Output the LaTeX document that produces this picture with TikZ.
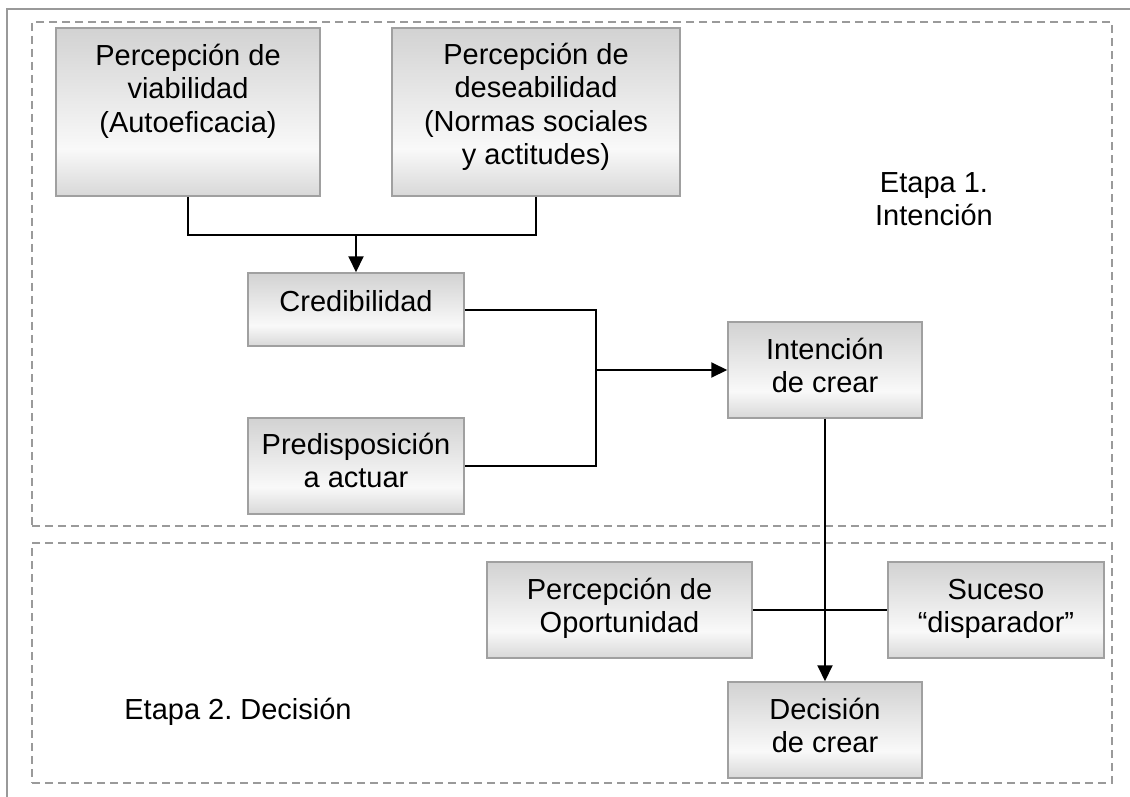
\documentclass[tikz,border=0pt]{standalone}
\usepackage{fontspec}
\setmainfont{Liberation Sans}
\frenchspacing
\usetikzlibrary{arrows.meta}
\definecolor{boxedge}{HTML}{A0A0A0}
\definecolor{gradT}{HTML}{D2D2D2}
\definecolor{gradB}{HTML}{D8D8D8}
\definecolor{gradM}{HTML}{F9F9F9}
\definecolor{dashgray}{HTML}{9A9A9A}
\definecolor{framegray}{HTML}{999999}
\pgfdeclareverticalshading{boxshade}{100bp}{color(0bp)=(gradB); color(25bp)=(gradB); color(39bp)=(gradM); color(75bp)=(gradT); color(100bp)=(gradT)}
\tikzset{
  box/.style={draw=boxedge, line width=1.5pt, rectangle, inner sep=0pt, shade, shading=boxshade},
  txt/.style={anchor=base, inner sep=0pt, font=\fontsize{29}{33.5}\selectfont},
  conn/.style={line width=2pt, black},
  thinconn/.style={line width=1.6pt, black},
  arr/.style={conn, -{Triangle[length=16pt,width=15pt]}},
  zone/.style={draw=dashgray, line width=1.3pt, dash pattern=on 8pt off 5pt, rectangle, inner sep=0pt},
}
\newcommand{\cellstack}[1]{\begin{tabular}[t]{@{}c@{}}#1\end{tabular}}
\begin{document}
\begin{tikzpicture}[x=1pt,y=-1pt]
\useasboundingbox (0,0) rectangle (1130,797);
\fill[white] (0,0) rectangle (1130,797);
% outer frame (only top and left visible)
\draw[framegray, line width=2pt] (1130,9) -- (7,9) -- (7,797);
% zones
\node[zone, minimum width=1080pt, minimum height=504pt] (zone1) at (572,274) {};
\node[zone, minimum width=1080pt, minimum height=240pt] (zone2) at (572,663) {};
% boxes
\node[box, minimum width=264pt, minimum height=168pt] (A) at (188,112) {};
\node[box, minimum width=288pt, minimum height=168pt] (B) at (536,112) {};
\node[box, minimum width=216pt, minimum height=73pt] (cred) at (356,309.5) {};
\node[box, minimum width=216pt, minimum height=96pt] (pred) at (356,466) {};
\node[box, minimum width=194pt, minimum height=96pt] (int) at (825,370) {};
\node[box, minimum width=265pt, minimum height=96pt] (opo) at (619.5,610) {};
\node[box, minimum width=216pt, minimum height=96pt] (suc) at (996,610) {};
\node[box, minimum width=194pt, minimum height=96pt] (dec) at (825,730) {};
% texts
\node[txt] (At) at ([yshift=-38pt]A.north) {\cellstack{Percepción de\\viabilidad\\(Autoeficacia)}};
\node[txt] (Bt) at ([yshift=-37pt]B.north) {\cellstack{Percepción de\\deseabilidad\\(Normas sociales\\y actitudes)}};
\node[txt] (credt) at ([yshift=-39pt]cred.north) {Credibilidad};
\node[txt] (predt) at ([yshift=-37pt]pred.north) {\cellstack{Predisposición\\a actuar}};
\node[txt] (intt) at ([yshift=-38pt]int.north) {\cellstack{Intención\\de crear}};
\node[txt] (opot) at ([yshift=-38pt]opo.north) {\cellstack{Percepción de\\Oportunidad}};
\node[txt] (suct) at ([yshift=-38pt]suc.north) {\cellstack{Suceso\\“disparador”}};
\node[txt] (dect) at ([yshift=-38pt]dec.north) {\cellstack{Decisión\\de crear}};
\node[txt] (et1) at (934,192) {\cellstack{Etapa 1.\\Intención}};
\node[txt] (et2) at (238,719) {Etapa 2. Decisión};
% connectors
\coordinate (j1) at (356,235);
\coordinate (j2) at (596,370);
\draw[conn] (A.south) |- (j1) -| (B.south);
\draw[arr] (j1) -- (cred.north);
\draw[conn] (cred.east) -| (j2) |- (pred.east);
\draw[arr] (j2) -- (int.west);
\draw[thinconn] (opo.east) -- (suc.west);
\draw[arr] (int.south) -- (dec.north);
\end{tikzpicture}
\end{document}
